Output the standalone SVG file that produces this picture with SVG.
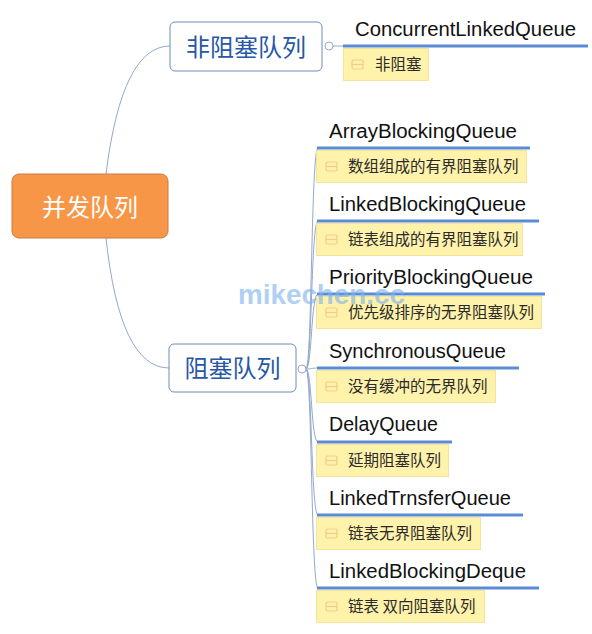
<svg xmlns="http://www.w3.org/2000/svg" width="592" height="634" viewBox="0 0 592 634">
<style>
.cjk{font-family:"Noto Sans CJK SC","Noto Sans",sans-serif}
.lat{font-family:"Liberation Sans","Noto Sans",sans-serif;font-size:19.5px;fill:#111}
.mid{fill:#fff;stroke:#6F8CBF;stroke-width:1}
.midt{font-size:24px;fill:#2757A6}
.ul{stroke:#5A8CD3;stroke-width:3;fill:none}
.conn{stroke:#93A8CB;stroke-width:1;fill:none}
.note{fill:#FFF2AA;stroke:#F3E3A0;stroke-width:1}
.nt{font-size:15.5px;fill:#2a2a2a}
.ic{fill:none;stroke:#F3CB86;stroke-width:1.2}
.dot{fill:#fff;stroke:#93A8CB;stroke-width:1}
</style>
<defs>
<g id="icon"><rect x="0" y="0" width="11" height="9" rx="1.5" class="ic"/><line x1="0" y1="4.5" x2="11" y2="4.5" class="ic"/></g>
</defs>
<rect width="592" height="634" fill="#fff"/>
<g id="connectors">
<path class="conn" d="M106,174 Q122,46 170,46"/>
<path class="conn" d="M106,238 Q120,368 169,368"/>
<line class="conn" x1="333" y1="46" x2="344" y2="46"/>
<path class="conn" d="M306,369 C312,369 311,148 318,148"/>
<path class="conn" d="M306,369 C312,369 311,221 318,221"/>
<path class="conn" d="M306,369 C312,369 311,294 318,294"/>
<path class="conn" d="M306,369 C312,369 311,368 318,368"/>
<path class="conn" d="M306,369 C312,369 311,442 318,442"/>
<path class="conn" d="M306,369 C312,369 311,515 318,515"/>
<path class="conn" d="M306,369 C312,369 311,588 318,588"/>
</g>
<g id="root">
<rect x="12" y="174" width="156" height="64" rx="7" fill="#F79646" stroke="#C97B45" stroke-width="1"/>
<text x="90" y="216" text-anchor="middle" class="cjk" font-size="24" fill="#fff">并发队列</text>
</g>
<g id="nonblocking">
<rect class="mid" x="170" y="22" width="152" height="49" rx="5"/>
<text x="246" y="56" text-anchor="middle" class="cjk midt" font-size="25">非阻塞队列</text>
<circle class="dot" cx="329" cy="46" r="4"/>
</g>
<g id="blocking">
<rect class="mid" x="169" y="344" width="127" height="48" rx="5"/>
<text x="232.5" y="377" text-anchor="middle" class="cjk midt">阻塞队列</text>
<circle class="dot" cx="302" cy="369" r="4"/>
</g>
<g id="clq">
<text x="355" y="36" class="lat" textLength="221" lengthAdjust="spacingAndGlyphs">ConcurrentLinkedQueue</text>
<line class="ul" x1="343" y1="46" x2="588" y2="46"/>
<rect class="note" x="343.5" y="48.5" width="85" height="32"/>
<use href="#icon" x="352" y="60"/>
<text x="375" y="70" class="cjk nt">非阻塞</text>
</g>
<g id="abq">
<text x="329" y="138" class="lat" textLength="188" lengthAdjust="spacingAndGlyphs">ArrayBlockingQueue</text>
<line class="ul" x1="317" y1="148" x2="530" y2="148"/>
<rect class="note" x="316.5" y="150.5" width="210" height="32"/>
<use href="#icon" x="326" y="162"/>
<text x="348" y="172" class="cjk nt">数组组成的有界阻塞队列</text>
</g>
<g id="lbq">
<text x="329" y="211" class="lat" textLength="197" lengthAdjust="spacingAndGlyphs">LinkedBlockingQueue</text>
<line class="ul" x1="317" y1="221" x2="539" y2="221"/>
<rect class="note" x="316.5" y="223.5" width="206" height="32"/>
<use href="#icon" x="326" y="235"/>
<text x="348" y="245" class="cjk nt">链表组成的有界阻塞队列</text>
</g>
<g id="pbq">
<text x="329" y="284" class="lat" textLength="204" lengthAdjust="spacingAndGlyphs">PriorityBlockingQueue</text>
<line class="ul" x1="317" y1="294" x2="545" y2="294"/>
<rect class="note" x="316.5" y="296.5" width="225" height="32"/>
<use href="#icon" x="326" y="308"/>
<text x="348" y="318" class="cjk nt">优先级排序的无界阻塞队列</text>
</g>
<g id="sq">
<text x="329" y="358" class="lat" textLength="177" lengthAdjust="spacingAndGlyphs">SynchronousQueue</text>
<line class="ul" x1="317" y1="368" x2="519" y2="368"/>
<rect class="note" x="316.5" y="370.5" width="179" height="32"/>
<use href="#icon" x="326" y="382"/>
<text x="348" y="392" class="cjk nt">没有缓冲的无界队列</text>
</g>
<g id="dq">
<text x="329" y="431" class="lat" textLength="109" lengthAdjust="spacingAndGlyphs">DelayQueue</text>
<line class="ul" x1="317" y1="442" x2="452" y2="442"/>
<rect class="note" x="316.5" y="444.5" width="132" height="32"/>
<use href="#icon" x="326" y="456"/>
<text x="348" y="466" class="cjk nt">延期阻塞队列</text>
</g>
<g id="ltq">
<text x="329" y="505" class="lat" textLength="182" lengthAdjust="spacingAndGlyphs">LinkedTrnsferQueue</text>
<line class="ul" x1="317" y1="515" x2="523" y2="515"/>
<rect class="note" x="316.5" y="517.5" width="164" height="32"/>
<use href="#icon" x="326" y="529"/>
<text x="348" y="539" class="cjk nt">链表无界阻塞队列</text>
</g>
<g id="lbd">
<text x="329" y="578" class="lat" textLength="197" lengthAdjust="spacingAndGlyphs">LinkedBlockingDeque</text>
<line class="ul" x1="317" y1="588" x2="539" y2="588"/>
<rect class="note" x="316.5" y="590.5" width="168" height="32"/>
<use href="#icon" x="326" y="602"/>
<text x="348" y="612" class="cjk nt">链表 双向阻塞队列</text>
</g>
<text x="238" y="304" font-family="Liberation Sans, sans-serif" font-weight="bold" font-size="27" fill="#7FB3EC" fill-opacity="0.65" textLength="167" lengthAdjust="spacingAndGlyphs">mikechen.cc</text>
</svg>
